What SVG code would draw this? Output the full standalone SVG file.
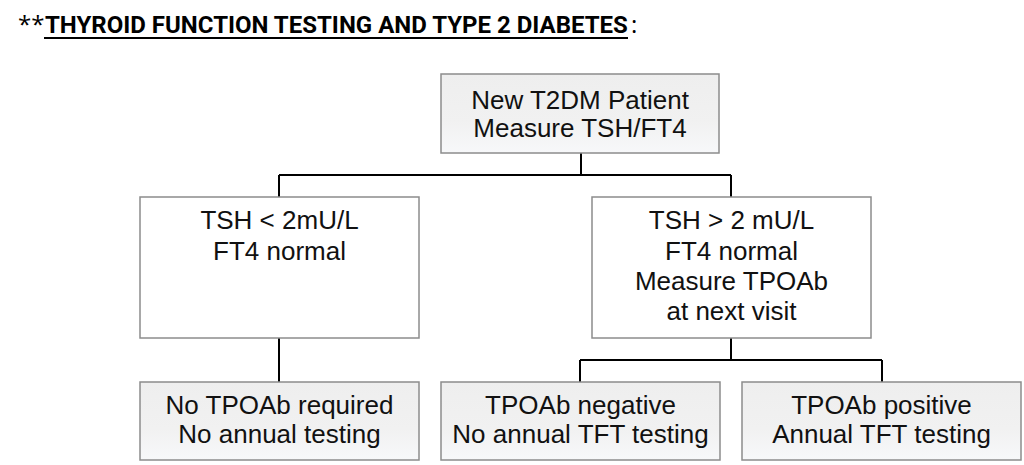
<svg xmlns="http://www.w3.org/2000/svg" width="1024" height="465" viewBox="0 0 1024 465">
<style>
.box{stroke:#8c8c8c;stroke-width:1.5}
.shade{fill:url(#g)}
.plain{fill:#ffffff}
.lbl{font-family:"Liberation Sans",Arial,sans-serif;font-size:26px;fill:#111;text-anchor:middle}
.con{fill:none;stroke:#000;stroke-width:2}
.title{font-family:"Open Sans","Liberation Sans",sans-serif;font-size:24px;fill:#000}
.tbold{font-family:Roboto,"Liberation Sans",sans-serif;font-size:24px;font-weight:bold;fill:#000}
</style>
<defs>
<linearGradient id="g" x1="0" y1="0" x2="0" y2="1">
<stop offset="0" stop-color="#eeeeee"/>
<stop offset="0.6" stop-color="#f1f1f1"/>
<stop offset="1" stop-color="#f7f8fa"/>
</linearGradient>
</defs>
<rect width="1024" height="465" fill="#ffffff"/>
<g id="title">
<text class="title" x="18" y="33">**</text>
<text class="tbold" x="45" y="33">THYROID FUNCTION TESTING AND TYPE 2 DIABETES</text>
<line x1="44" y1="38" x2="628" y2="38" stroke="#000" stroke-width="2.2"/>
<text class="title" x="631" y="33">:</text>
</g>
<g id="connectors">
<path class="con" d="M581 153 V175 M279 175 H731 M279 175 V197 M731 175 V197"/>
<path class="con" d="M279 338 V382"/>
<path class="con" d="M731 338 V360 M580 360 H882 M580 360 V382 M882 360 V382"/>
</g>
<g id="n_start">
<rect class="box shade" x="441" y="74" width="278" height="79"/>
<text class="lbl" x="580" y="109">New T2DM Patient</text>
<text class="lbl" x="580" y="137">Measure TSH/FT4</text>
</g>
<g id="n_low">
<rect class="box plain" x="140" y="197" width="279" height="141"/>
<text class="lbl" x="279.5" y="229">TSH &lt; 2mU/L</text>
<text class="lbl" x="279.5" y="259.5">FT4 normal</text>
</g>
<g id="n_high">
<rect class="box plain" x="592" y="197" width="279" height="141"/>
<text class="lbl" x="731.5" y="229">TSH &gt; 2 mU/L</text>
<text class="lbl" x="731.5" y="259.5">FT4 normal</text>
<text class="lbl" x="731.5" y="290">Measure TPOAb</text>
<text class="lbl" x="731.5" y="320">at next visit</text>
</g>
<g id="n_none">
<rect class="box shade" x="140" y="382" width="279" height="78"/>
<text class="lbl" x="279.5" y="414">No TPOAb required</text>
<text class="lbl" x="279.5" y="443">No annual testing</text>
</g>
<g id="n_neg">
<rect class="box shade" x="441" y="382" width="279" height="78"/>
<text class="lbl" x="580.5" y="414">TPOAb negative</text>
<text class="lbl" x="580.5" y="443">No annual TFT testing</text>
</g>
<g id="n_pos">
<rect class="box shade" x="742" y="382" width="279" height="78"/>
<text class="lbl" x="881.5" y="414">TPOAb positive</text>
<text class="lbl" x="881.5" y="443">Annual TFT testing</text>
</g>
</svg>
